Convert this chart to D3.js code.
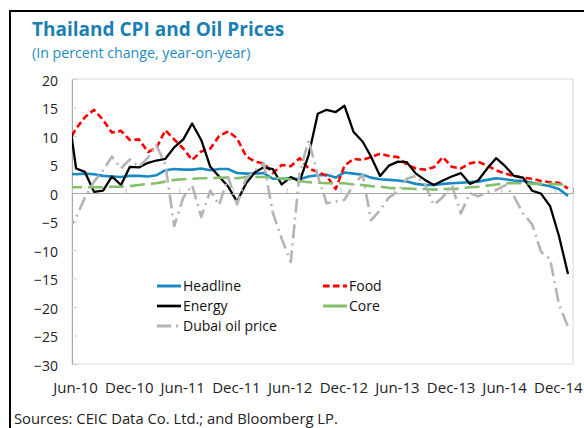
<!DOCTYPE html>
<html>
<head>
<meta charset="utf-8">
<script src="https://cdn.jsdelivr.net/npm/d3@7"></script>
<style>
   body { margin: 0; background: #fff; }
   svg { display: block; font-family: "Open Sans", sans-serif; }
   .title { font-size: 19px; font-weight: 700; fill: #1a80b4; }
   .subTitle { font-size: 14.2px; fill: #1f8bc0; }
   .caption { font-size: 14.8px; fill: #222; }
   .axis text { font-size: 14px; fill: #222; font-family: "Open Sans", sans-serif; }
   .xLabels text { font-size: 15px; }
   .legend text { font-size: 14px; fill: #111; }
</style>
</head>
<body>
<div id="chart"></div>
<script>
const width = 584;
const height = 428;

const title = "Thailand CPI and Oil Prices";
const subTitle = "(In percent change, year-on-year)";
const source = "Sources: CEIC Data Co. Ltd.; and Bloomberg LP.";

// monthly observations, May-10 is only there for the clipped first segment
const months = [
   "May-10","Jun-10","Jul-10","Aug-10","Sep-10","Oct-10","Nov-10","Dec-10",
   "Jan-11","Feb-11","Mar-11","Apr-11","May-11","Jun-11","Jul-11","Aug-11","Sep-11","Oct-11","Nov-11","Dec-11",
   "Jan-12","Feb-12","Mar-12","Apr-12","May-12","Jun-12","Jul-12","Aug-12","Sep-12","Oct-12","Nov-12","Dec-12",
   "Jan-13","Feb-13","Mar-13","Apr-13","May-13","Jun-13","Jul-13","Aug-13","Sep-13","Oct-13","Nov-13","Dec-13",
   "Jan-14","Feb-14","Mar-14","Apr-14","May-14","Jun-14","Jul-14","Aug-14","Sep-14","Oct-14","Nov-14","Dec-14",
   "Jan-15"
];

const headline = [3.4, 3.3,3.4,3.3,3.0,2.9,2.8, 3.0,3.0,2.9,3.1,4.0,4.2, 4.1,4.1,4.3,4.0,4.2,4.2,
   3.5,3.4,3.4,3.5,2.5,2.5, 2.6,2.4,2.9,3.1,3.2,2.7, 3.6,3.4,3.2,2.7,2.4,2.3, 2.2,2.0,1.6,1.4,1.4,1.6,
   1.7,1.8,1.9,2.0,2.3,2.6, 2.4,2.2,2.1,1.8,1.5,1.2, 0.7,-0.5];
const food = [8.5, 11.3,13.3,14.6,12.8,10.6,10.9, 9.3,9.4,7.2,7.9,11.0,9.4, 7.8,5.8,7.3,7.8,10.0,10.8,
   9.6,6.4,5.5,5.2,3.5,4.9, 4.7,6.1,4.3,3.7,3.0,0.7, 4.8,6.0,5.8,6.3,6.9,6.5, 6.3,5.0,4.3,4.1,4.5,6.3,
   4.6,4.3,5.2,5.5,4.8,4.0, 3.4,3.0,2.7,2.5,2.1,1.9, 1.8,0.8];
const energy = [15.7, 4.3,3.7,0.2,0.4,2.9,1.4, 4.6,4.5,5.3,5.7,6.0,8.0, 9.4,12.2,9.3,4.6,2.9,1.1,
   -1.5,1.7,3.7,4.5,4.2,1.5, 2.8,2.0,6.7,13.9,14.6,14.2, 15.3,10.7,9.0,6.4,3.0,4.8, 5.5,5.4,3.4,2.3,1.4,2.2,
   2.9,3.5,1.6,2.2,4.3,6.1, 4.7,3.0,2.7,0.4,-0.1,-2.3, -7.5,-14.2];
const core = [1.0, 1.0,1.0,1.0,1.0,1.1,1.1, 1.2,1.4,1.6,1.7,2.0,2.3, 2.4,2.5,2.6,2.6,2.7,2.7,
   2.6,2.8,2.8,2.8,2.7,2.5, 2.4,2.1,1.9,1.8,1.7,1.7, 1.7,1.5,1.4,1.2,1.1,0.9, 0.8,0.8,0.7,0.7,0.6,0.7,
   0.7,0.8,1.0,1.1,1.3,1.5, 1.7,1.7,1.7,1.6,1.6,1.6, 1.5,1.4];
const dubai = [-7.0, -4.3,-0.8,2.0,4.0,6.4,4.3, 5.9,4.6,6.2,8.4,5.0,-5.8, -0.8,1.4,-4.2,0.4,-2.1,2.8,
   -2.0,2.6,4.0,5.2,-3.5,-8.0, -12.1,3.5,9.3,3.0,-1.8,-1.5, -1.2,1.5,3.2,-4.8,-3.0,-0.8, 0.3,2.5,3.0,1.5,-2.1,-0.7,
   1.5,-3.6,0.0,-0.6,0.2,0.5, 1.4,-0.6,-3.6,-5.5,-10.3,-11.6, -19.5,-23.5];

const xTickLabels = ["Jun-10","Dec-10","Jun-11","Dec-11","Jun-12","Dec-12","Jun-13","Dec-13","Jun-14","Dec-14"];
const yTicks = [20, 15, 10, 5, 0, -5, -10, -15, -20, -25, -30];

const series = [
   { name: "Headline",         values: headline, color: "#1a8ac2", width: 2.6, dash: null },
   { name: "Food",             values: food,     color: "#ff0000", width: 2.6, dash: "6.5,3.5" },
   { name: "Energy",           values: energy,   color: "#000000", width: 2.3, dash: null },
   { name: "Core",             values: core,     color: "#86bf6c", width: 2.6, dash: "15,6" },
   { name: "Dubai oil price",  values: dubai,    color: "#b4b4b4", width: 2.6, dash: "14,5,2,5" }
];

const margin = { top: 79, right: 11, bottom: 64, left: 72 };
const parseMonth = d3.timeParse("%b-%y");

const svg = d3.select("#chart").append("svg")
   .attr("width", width)
   .attr("height", height);

svg.append("rect").attr("width", width).attr("height", height).attr("fill", "#fff");

// frame of the box the chart sits in
svg.append("path")
   .attr("d", `M10,${height} V11 H${width}`)
   .attr("fill", "none")
   .attr("stroke", "#000")
   .attr("stroke-width", 2);

svg.append("text").attr("class", "title").attr("x", 32).attr("y", 36).text(title);
svg.append("text").attr("class", "subTitle").attr("x", 32).attr("y", 58).text(subTitle);
svg.append("text").attr("class", "caption").attr("x", 14).attr("y", 424).text(source);

const x = d3.scaleTime()
   .domain([parseMonth("Jun-10"), parseMonth("Feb-15")])
   .range([margin.left, width - margin.right]);

const y = d3.scaleLinear()
   .domain([-30, 20])
   .range([height - margin.bottom, margin.top]);

// plot area border
svg.append("rect")
   .attr("x", x.range()[0]).attr("y", y(20))
   .attr("width", x.range()[1] - x.range()[0])
   .attr("height", y(-30) - y(20))
   .attr("fill", "none")
   .attr("stroke", "#d9d9d9");

const yAxis = svg.append("g")
   .attr("class", "axis")
   .attr("transform", `translate(${margin.left},0)`)
   .call(d3.axisLeft(y).tickValues(yTicks).tickSize(-5).tickPadding(14));
yAxis.select(".domain").attr("stroke", "#a6a6a6");
yAxis.selectAll(".tick line").attr("stroke", "#d0d0d0");
yAxis.selectAll(".tick text").attr("dy", "0.45em");

const tickDates = xTickLabels.map(parseMonth);

const zeroAxis = svg.append("g")
   .attr("transform", `translate(0,${y(0)})`)
   .call(d3.axisBottom(x).tickValues(tickDates).tickSize(-5).tickFormat(""));
zeroAxis.select(".domain").attr("stroke", "#a6a6a6");
zeroAxis.selectAll(".tick line").attr("stroke", "#c8c8c8");

const labelAxis = svg.append("g")
   .attr("class", "axis xLabels")
   .attr("transform", `translate(0,${y(-30)})`)
   .call(d3.axisBottom(x).tickValues(tickDates).tickSize(0).tickPadding(18)
      .tickFormat((d, i) => xTickLabels[i]));
labelAxis.select(".domain").remove();
labelAxis.selectAll(".tick text").attr("dx", 3);

svg.append("clipPath").attr("id", "plot-clip")
   .append("rect")
   .attr("x", x.range()[0]).attr("y", y(20))
   .attr("width", x.range()[1] - x.range()[0])
   .attr("height", y(-30) - y(20));

// points sit in the middle of each month
const monthDates = months.map(m => d3.timeDay.offset(parseMonth(m), 14));

const line = d3.line()
   .x((d, i) => x(monthDates[i]))
   .y(d => y(d));

svg.append("g")
   .attr("clip-path", "url(#plot-clip)")
   .selectAll("path")
   .data(series)
   .enter()
   .append("path")
   .attr("d", d => line(d.values))
   .attr("fill", "none")
   .attr("stroke", d => d.color)
   .attr("stroke-width", d => d.width)
   .attr("stroke-dasharray", d => d.dash)
   .attr("stroke-linejoin", "round");

// legend, two columns like the original
const legend = svg.append("g").attr("class", "legend");
const legendPos = [[157, 286], [323, 286], [157, 306], [323, 306], [157, 326]];

series.forEach((s, i) => {
   const [lx, ly] = legendPos[i];
   legend.append("line")
      .attr("x1", lx).attr("x2", lx + 24)
      .attr("y1", ly).attr("y2", ly)
      .attr("stroke", s.color)
      .attr("stroke-width", s.width + 0.4)
      .attr("stroke-dasharray", s.dash ? (s.name == "Core" ? null : s.dash) : null);
   legend.append("text")
      .attr("x", lx + 26)
      .attr("y", ly + 5)
      .text(s.name);
});
</script>
</body>
</html>
